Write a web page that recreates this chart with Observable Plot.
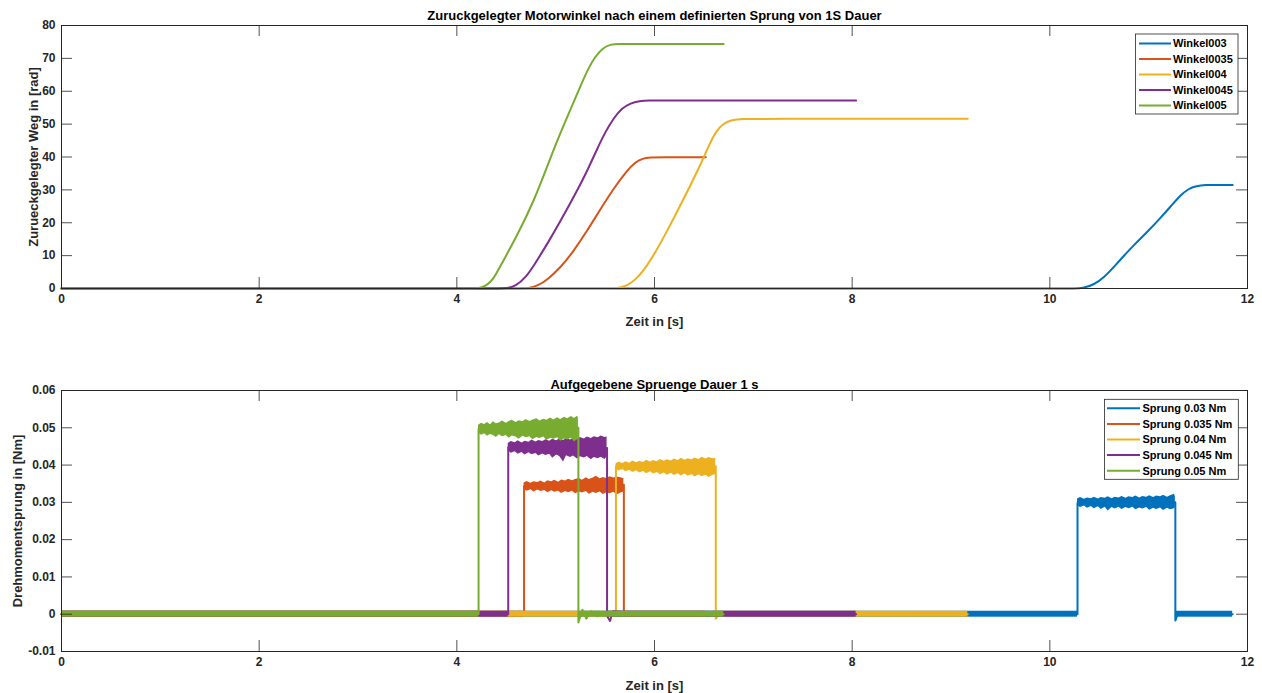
<!DOCTYPE html>
<html><head><meta charset="utf-8">
<script src="https://cdn.jsdelivr.net/npm/d3@7"></script>
<script src="https://cdn.jsdelivr.net/npm/@observablehq/plot@0.6"></script>
<style>
body{margin:0;background:#fff;}
#root{position:relative;width:1262px;height:693px;font-family:"Liberation Sans",Arial,sans-serif;}
#root svg{position:absolute;left:0;overflow:visible;}
</style></head><body><div id="root"></div><script>
// ---------- data ----------
const colors = ["#0072BD", "#D95319", "#EDB120", "#7E2F8E", "#77AC30"];
const xTicks = [0, 2, 4, 6, 8, 10, 12];
const yTicksTop = [0, 10, 20, 30, 40, 50, 60, 70, 80];
const yTicksBot = [-0.01, 0, 0.01, 0.02, 0.03, 0.04, 0.05, 0.06];
const legendTop = ["Winkel003", "Winkel0035", "Winkel004", "Winkel0045", "Winkel005"];
const legendBot = ["Sprung 0.03 Nm", "Sprung 0.035 Nm", "Sprung 0.04 Nm", "Sprung 0.045 Nm", "Sprung 0.05 Nm"];

// top: travelled angle [t, rad]
const w003 = [[0,0],[10.1,0],[10.25,0],[10.33,0],[10.45,1.2],[10.55,3.4],[10.65,6.6],[10.75,10.0],[10.85,13.2],[10.99,17.3],[11.12,21.5],[11.23,25.2],[11.32,28.3],[11.40,30.3],[11.48,31.2],[11.58,31.5],[11.68,31.5],[11.85,31.5]];
const w0035 = [[0,0],[4.5,0],[4.64,0],[4.72,0],[4.82,0.8],[4.92,2.8],[5.05,6.4],[5.18,11.3],[5.32,17.6],[5.45,24.0],[5.60,31.0],[5.72,35.8],[5.80,38.3],[5.88,39.6],[5.96,39.9],[6.06,39.9],[6.52,39.9]];
const w004 = [[0,0],[5.4,0],[5.54,0],[5.62,0],[5.72,0.8],[5.80,2.5],[5.89,5.4],[6.00,10.5],[6.13,17.6],[6.30,27.5],[6.47,37.9],[6.55,43.5],[6.62,47.8],[6.70,50.3],[6.78,51.3],[6.90,51.6],[7.00,51.6],[9.17,51.6]];
const w0045 = [[0,0],[4.3,0],[4.42,0],[4.50,0],[4.60,0.8],[4.70,3.5],[4.78,7.0],[4.92,13.8],[5.05,20.6],[5.20,28.8],[5.32,35.8],[5.42,42.5],[5.50,47.5],[5.59,52.0],[5.67,54.8],[5.75,56.3],[5.85,57.1],[5.95,57.2],[6.05,57.2],[8.04,57.2]];
const w005 = [[0,0],[4.0,0],[4.14,0],[4.22,0],[4.30,0.8],[4.37,2.8],[4.44,6.8],[4.60,15.5],[4.78,26.5],[4.95,40.0],[5.05,47.5],[5.15,54.5],[5.25,61.5],[5.33,67.0],[5.40,70.5],[5.47,73.0],[5.55,74.3],[5.65,74.4],[5.75,74.4],[6.70,74.4]];

// bottom: torque step outline [t, Nm]
const s003 = [[0,0],[10.28,0],[10.28,0.0298],[11.27,0.0300],[11.27,-0.0017],[11.30,0.0006],[11.35,0.0002],[11.85,0]];
const s0035 = [[0,0],[4.68,0],[4.68,0.0343],[5.69,0.0347],[5.69,-0.0005],[5.72,0],[6.52,0]];
const s004 = [[0,0],[5.61,0],[5.61,0.0396],[6.62,0.0397],[6.62,-0.0012],[6.66,0.0003],[9.17,0]];
const s0045 = [[0,0],[4.52,0],[4.52,0.0448],[5.52,0.0446],[5.52,-0.0005],[5.55,-0.0018],[5.58,0.0008],[5.70,0.0006],[5.75,0],[8.04,0]];
const s005 = [[0,0],[4.22,0],[4.22,0.0497],[5.23,0.0500],[5.23,-0.0022],[5.27,0.0012],[5.31,-0.0012],[5.36,0.0008],[5.42,-0.0006],[5.50,0.0004],[5.60,0],[6.70,0]];

// bottom: noise envelope on the plateau [t, low, high]
const n003 = [[10.28,.0291,.0309],[10.31,.0286,.0313],[10.35,.0290,.0308],[10.38,.0284,.0312],[10.42,.0289,.0310],[10.45,.0283,.0314],[10.49,.0288,.0309],[10.52,.0281,.0313],[10.56,.0287,.0311],[10.59,.0277,.0315],[10.63,.0286,.0310],[10.66,.0282,.0314],[10.70,.0287,.0312],[10.73,.0281,.0316],[10.77,.0286,.0311],[10.80,.0283,.0315],[10.84,.0287,.0313],[10.87,.0280,.0317],[10.91,.0285,.0312],[10.94,.0282,.0316],[10.98,.0286,.0314],[11.01,.0279,.0318],[11.05,.0284,.0313],[11.08,.0281,.0317],[11.12,.0285,.0315],[11.15,.0278,.0319],[11.19,.0284,.0314],[11.22,.0280,.0318],[11.26,.0283,.0322],[11.27,.0286,.0316]];
const n0035 = [[4.68,.0335,.0352],[4.71,.0330,.0356],[4.75,.0334,.0351],[4.78,.0328,.0355],[4.82,.0333,.0353],[4.85,.0329,.0357],[4.89,.0332,.0352],[4.92,.0326,.0358],[4.96,.0331,.0355],[4.99,.0327,.0359],[5.03,.0330,.0354],[5.06,.0324,.0360],[5.10,.0329,.0357],[5.13,.0326,.0362],[5.17,.0330,.0358],[5.20,.0323,.0361],[5.24,.0328,.0364],[5.27,.0325,.0359],[5.31,.0329,.0366],[5.34,.0322,.0361],[5.38,.0327,.0365],[5.41,.0324,.0370],[5.45,.0328,.0363],[5.48,.0321,.0367],[5.52,.0326,.0364],[5.55,.0323,.0369],[5.59,.0327,.0365],[5.62,.0320,.0368],[5.66,.0325,.0366],[5.69,.0328,.0363]];
const n004 = [[5.61,.0389,.0403],[5.64,.0384,.0408],[5.68,.0388,.0404],[5.71,.0382,.0409],[5.75,.0386,.0405],[5.78,.0380,.0411],[5.82,.0385,.0406],[5.85,.0379,.0410],[5.89,.0383,.0407],[5.92,.0377,.0413],[5.96,.0382,.0408],[5.99,.0376,.0412],[6.03,.0380,.0409],[6.06,.0374,.0415],[6.10,.0379,.0410],[6.13,.0373,.0414],[6.17,.0378,.0411],[6.20,.0372,.0416],[6.24,.0377,.0412],[6.27,.0371,.0418],[6.31,.0376,.0413],[6.34,.0370,.0417],[6.38,.0375,.0414],[6.41,.0368,.0419],[6.45,.0374,.0415],[6.48,.0369,.0421],[6.52,.0373,.0416],[6.55,.0367,.0420],[6.59,.0372,.0417],[6.62,.0375,.0418]];
const n0045 = [[4.52,.0438,.0458],[4.55,.0432,.0463],[4.59,.0436,.0460],[4.62,.0429,.0465],[4.66,.0434,.0459],[4.69,.0427,.0464],[4.73,.0433,.0461],[4.76,.0428,.0467],[4.80,.0431,.0462],[4.83,.0424,.0466],[4.87,.0430,.0463],[4.90,.0426,.0468],[4.94,.0429,.0464],[4.97,.0418,.0469],[5.01,.0427,.0465],[5.04,.0423,.0470],[5.08,.0408,.0466],[5.11,.0425,.0471],[5.15,.0420,.0467],[5.18,.0424,.0472],[5.22,.0416,.0468],[5.25,.0422,.0474],[5.29,.0419,.0470],[5.32,.0423,.0475],[5.36,.0414,.0471],[5.39,.0420,.0476],[5.43,.0417,.0473],[5.46,.0421,.0478],[5.50,.0415,.0474],[5.52,.0422,.0476]];
const n005 = [[4.22,.0486,.0507],[4.25,.0480,.0512],[4.28,.0484,.0509],[4.31,.0477,.0514],[4.34,.0482,.0508],[4.37,.0479,.0516],[4.40,.0474,.0511],[4.43,.0481,.0513],[4.46,.0476,.0518],[4.50,.0479,.0512],[4.53,.0472,.0517],[4.56,.0478,.0520],[4.60,.0475,.0514],[4.63,.0469,.0519],[4.67,.0477,.0516],[4.70,.0473,.0522],[4.74,.0476,.0517],[4.77,.0468,.0521],[4.81,.0474,.0524],[4.84,.0471,.0518],[4.88,.0475,.0523],[4.91,.0466,.0520],[4.95,.0472,.0526],[4.98,.0469,.0521],[5.02,.0473,.0527],[5.05,.0464,.0522],[5.09,.0470,.0528],[5.12,.0467,.0524],[5.16,.0472,.0530],[5.19,.0462,.0525],[5.22,.0468,.0531],[5.23,.0470,.0527]];

// bottom: intervals resting near zero [t1, t2]
const b003 = [[0,10.28],[11.27,11.85]];
const b0035 = [[0,4.68],[5.69,6.52]];
const b004 = [[0,5.61],[6.62,9.17]];
const b0045 = [[0,4.52],[5.52,8.04]];
const b005 = [[0,4.22],[5.23,6.70]];
const baseNoise = 0.0008;

const topSeries = [w003, w0035, w004, w0045, w005];
const botSeries = [
  {line: s003, band: n003, base: b003},
  {line: s0035, band: n0035, base: b0035},
  {line: s004, band: n004, base: b004},
  {line: s0045, band: n0045, base: b0045},
  {line: s005, band: n005, base: b005}
];

// ---------- layout ----------
const W = 1262, ML = 61, MR = 15, TL = 11;
const axisColor = "#262626";
const FONT = "'Liberation Sans', Arial, sans-serif";
const font = {fontFamily: FONT, fontWeight: "bold", background: "transparent", overflow: "visible"};

function axesMarks(yTicks, fmt, frameW, frameH, title, xlabel, ylabel, titleDy, xlDy, ylDx) {
  return [
    Plot.tickX(xTicks, {x: d => d, insetTop: frameH - TL, stroke: axisColor, strokeWidth: 0.8}),
    Plot.tickX(xTicks, {x: d => d, insetBottom: frameH - TL, stroke: axisColor, strokeWidth: 0.8}),
    Plot.tickY(yTicks, {y: d => d, insetRight: frameW - TL, stroke: axisColor, strokeWidth: 0.8}),
    Plot.tickY(yTicks, {y: d => d, insetLeft: frameW - TL, stroke: axisColor, strokeWidth: 0.8}),
    Plot.frame({stroke: axisColor, strokeWidth: 1}),
    Plot.axisX(xTicks, {anchor: "bottom", tickSize: 0, tickPadding: 6, fontSize: 12, fontWeight: "bold", fill: axisColor, label: null}),
    Plot.axisY(yTicks, {anchor: "left", tickSize: 0, tickPadding: 6, fontSize: 12, fontWeight: "bold", fill: axisColor, label: null, tickFormat: fmt}),
    Plot.text([title], {text: d => d, frameAnchor: "top", lineAnchor: "middle", textAnchor: "middle", dy: titleDy, fontSize: 13, fontWeight: "bold", fill: "#000"}),
    Plot.text([xlabel], {text: d => d, frameAnchor: "bottom", lineAnchor: "middle", textAnchor: "middle", dy: xlDy, fontSize: 13, fontWeight: "bold", fill: axisColor}),
    Plot.text([ylabel], {text: d => d, frameAnchor: "left", lineAnchor: "middle", textAnchor: "middle", dx: ylDx, rotate: -90, fontSize: 13, fontWeight: "bold", fill: axisColor})
  ];
}

function legend(svg, names, box, lineX1, lineX2, textX, row0, rowStep) {
  const g = d3.select(svg).append("g").attr("text-anchor", "start");
  g.append("rect").attr("x", box[0]).attr("y", box[1]).attr("width", box[2] - box[0]).attr("height", box[3] - box[1])
    .attr("fill", "#fff").attr("stroke", axisColor).attr("stroke-width", 0.8);
  names.forEach((n, i) => {
    const y = row0 + i * rowStep;
    g.append("line").attr("x1", lineX1).attr("x2", lineX2).attr("y1", y).attr("y2", y).attr("stroke", colors[i]).attr("stroke-width", 2);
    g.append("text").attr("x", textX).attr("y", y).attr("dy", "0.35em").attr("font-size", 11).attr("font-weight", "bold")
      .attr("text-anchor", "start").attr("font-family", FONT).attr("fill", "#000").text(n);
  });
}

const root = document.getElementById("root");

// ---------- top plot ----------
const H1 = 346, MT1 = 25, MB1 = 58;
const fw = W - ML - MR, fh1 = H1 - MT1 - MB1;
const topPlot = Plot.plot({
  width: W, height: H1, marginLeft: ML, marginRight: MR, marginTop: MT1, marginBottom: MB1,
  style: font,
  x: {domain: [0, 12]},
  y: {domain: [0, 80]},
  marks: [
    ...topSeries.map((s, i) => Plot.line(s, {x: d => d[0], y: d => d[1], stroke: colors[i], strokeWidth: 2, curve: "basis"})),
    ...axesMarks(yTicksTop, d => String(d), fw, fh1,
      "Zuruckgelegter Motorwinkel nach einem definierten Sprung von 1S Dauer", "Zeit in [s]", "Zurueckgelegter Weg in [rad]", -10, 33, -28)
  ]
});
topPlot.style.top = "0px";
root.appendChild(topPlot);
legend(topPlot, legendTop, [1135.5, 34, 1238, 114], 1139, 1171, 1173, 43.5, 15.5);

// ---------- bottom plot ----------
const H2 = 347, MT2 = 44, MB2 = 42;
const fh2 = H2 - MT2 - MB2;
const fmtBot = d => d === 0 ? "0" : String(+d.toFixed(2));
const botMarks = [];
botSeries.forEach((s, i) => {
  botMarks.push(Plot.rect(s.base, {x1: d => d[0], x2: d => d[1], y1: -baseNoise, y2: baseNoise, fill: colors[i]}));
  botMarks.push(Plot.areaY(s.band, {x: d => d[0], y1: d => d[1], y2: d => d[2], fill: colors[i]}));
  botMarks.push(Plot.line(s.line, {x: d => d[0], y: d => d[1], stroke: colors[i], strokeWidth: 2}));
});
const botPlot = Plot.plot({
  width: W, height: H2, marginLeft: ML, marginRight: MR, marginTop: MT2, marginBottom: MB2,
  style: font,
  x: {domain: [0, 12]},
  y: {domain: [-0.01, 0.06]},
  marks: [
    ...botMarks,
    ...axesMarks(yTicksBot, fmtBot, fw, fh2,
      "Aufgegebene Spruenge Dauer 1 s", "Zeit in [s]", "Drehmomentsprung in [Nm]", -6, 34, -44)
  ]
});
botPlot.style.top = "346px";
root.appendChild(botPlot);
legend(botPlot, legendBot, [1104.5, 53.3, 1238.3, 133.3], 1107, 1140, 1142.5, 62.3, 15.6);
</script></body></html>
